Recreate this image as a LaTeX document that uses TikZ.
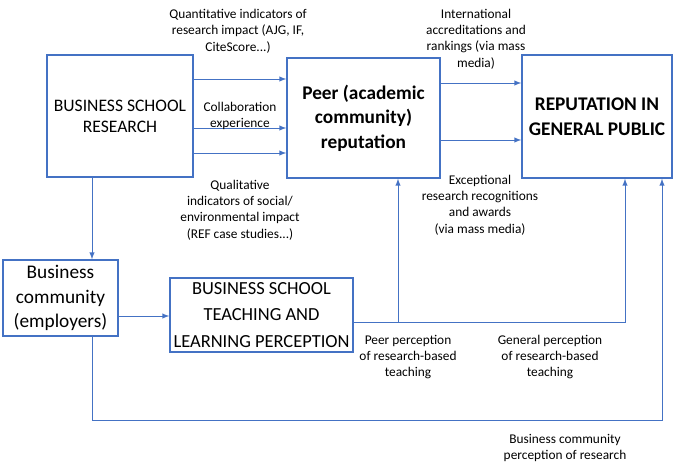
\documentclass[tikz,border=0pt]{standalone}
\usepackage{fontspec}
\setmainfont{Carlito}
\definecolor{linkblue}{RGB}{68,114,196}
\begin{document}
\begin{tikzpicture}[x=0.02cm,y=-0.02cm,
    box/.style={draw=linkblue,thick,align=center,inner sep=0pt},
    lbl/.style={align=center,font=\fontsize{7.6}{9.3}\selectfont},
    link/.style={linkblue,-latex}]
    \useasboundingbox (0,0) rectangle (685,466);

    % Kaesten
    \node [box,minimum width=146*0.02cm,minimum height=122*0.02cm] (research) at (120,116) {BUSINESS SCHOOL\\RESEARCH};
    \node [box,minimum width=153*0.02cm,minimum height=120*0.02cm,font=\bfseries\fontsize{11}{14}\selectfont] (peer) at (363.5,118) {Peer (academic\\community)\\reputation};
    \node [box,minimum width=150*0.02cm,minimum height=123*0.02cm,font=\bfseries\fontsize{11}{14}\selectfont] (public) at (597,116.5) {REPUTATION IN\\GENERAL PUBLIC};
    \node [box,minimum width=115*0.02cm,minimum height=76*0.02cm,font=\fontsize{11}{14}\selectfont] (business) at (60.5,298) {Business\\community\\(employers)};
    \node [box,minimum width=183*0.02cm,minimum height=74*0.02cm,font=\fontsize{10.5}{15}\selectfont] (teaching) at (261.5,315) {BUSINESS SCHOOL\\TEACHING AND\\LEARNING PERCEPTION};

    % Forschung -> Peer
    \foreach \ypos in {79,128,153}
        \draw [link] (research.east |- 0,\ypos) -- (peer.west |- 0,\ypos);
    % Peer -> Oeffentlichkeit
    \foreach \ypos in {83,140}
        \draw [link] (peer.east |- 0,\ypos) -- (public.west |- 0,\ypos);

    \draw [link] (research.south -| 92,0) -- (business.north -| 92,0);
    \draw [link] (business.east |- 0,316) -- (teaching.west |- 0,316);

    % Lehre -> Peer, Oeffentlichkeit
    \coordinate (knick1) at (398,322);
    \coordinate (knick2) at (625,322);
    \draw [link] (teaching.east |- knick1) -- (knick1) -- (peer.south -| knick1);
    \draw [link] (knick1) -- (knick2) -- (public.south -| knick2);

    % Wirtschaft -> Oeffentlichkeit
    \coordinate (unten1) at (92,420);
    \coordinate (unten2) at (662,420);
    \draw [link] (business.south -| unten1) -- (unten1) -- (unten2) -- (public.south -| unten2);

    % Beschriftungen
    \node [lbl] (quant) at (238,31) {Quantitative indicators of\\research impact (AJG, IF,\\CiteScore...)};
    \node [lbl] (collab) at (240,116) {Collaboration\\experience};
    \node [lbl] (qual) at (240,210) {Qualitative\\indicators of social/\\environmental impact\\(REF case studies...)};
    \node [lbl] (intl) at (476,39) {International\\accreditations and\\rankings (via mass\\media)};
    \node [lbl] (except) at (480,205) {Exceptional\\research recognitions\\and awards\\(via mass media)};
    \node [lbl] (peerperc) at (408,357) {Peer perception\\of research-based\\teaching};
    \node [lbl] (genperc) at (550,357) {General perception\\of research-based\\teaching};
    \node [lbl] (busperc) at (565,448) {Business community\\perception of research};
\end{tikzpicture}
\end{document}
